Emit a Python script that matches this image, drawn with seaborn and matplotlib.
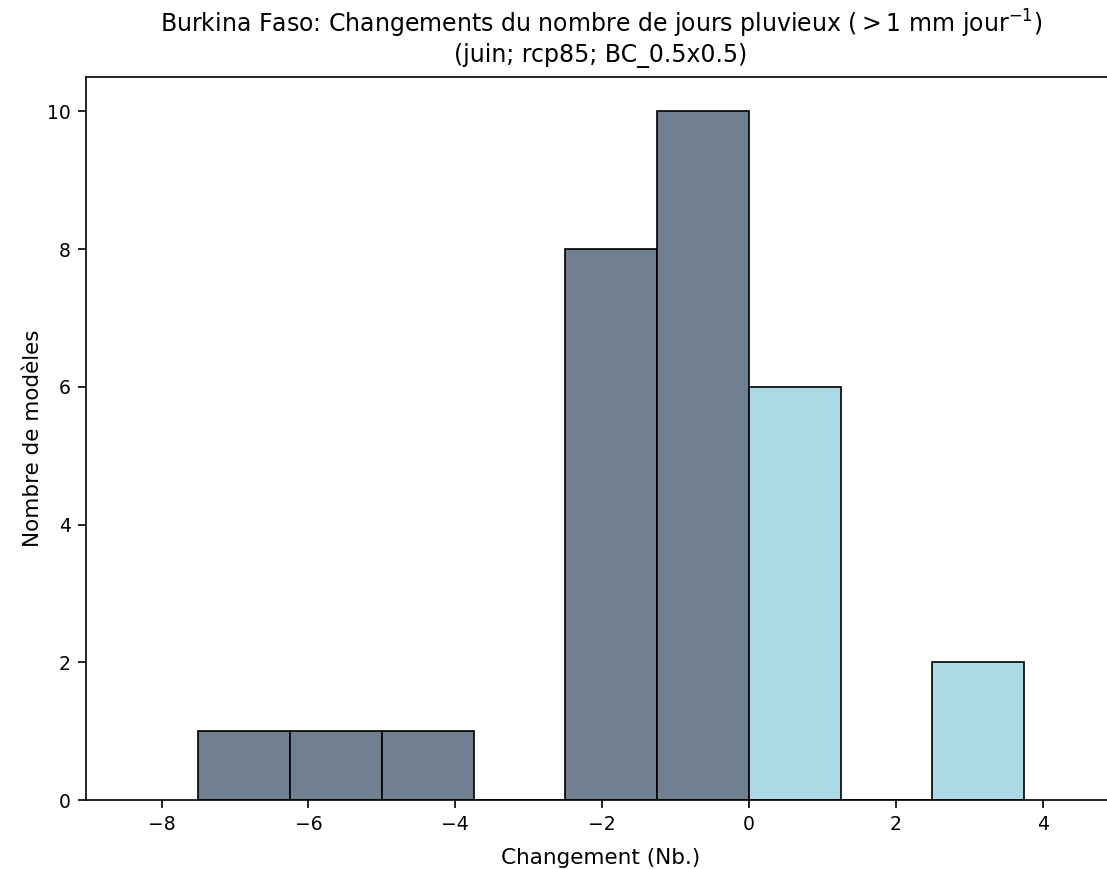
import numpy as np
import pandas as pd
import matplotlib
matplotlib.use("Agg")
import matplotlib.pyplot as plt
import seaborn as sns

# bins of 1.25 days, counts of models per bin
bin_edges = [-7.5, -6.25, -5.0, -3.75, -2.5, -1.25, 0.0, 1.25, 2.5, 3.75]
counts = [1, 1, 1, 0, 8, 10, 6, 0, 2]

centres = [(a + b) / 2 for a, b in zip(bin_edges[:-1], bin_edges[1:])]
df = pd.DataFrame({'changement': centres, 'n': counts})
neg = df[df['changement'] < 0]
pos = df[df['changement'] > 0]

fig = plt.figure(figsize=(11.07, 8.69), dpi=100)
# axes runs a bit past the right edge of the picture (right spine cut off)
ax = fig.add_axes([86 / 1107, 69 / 869, 1030 / 1107, 723 / 869])

sns.histplot(data=neg, x='changement', weights='n', bins=[e for e in bin_edges if e <= 0],
             color='slategray', edgecolor='black', alpha=1, linewidth=1.2, ax=ax)
sns.histplot(data=pos, x='changement', weights='n', bins=[e for e in bin_edges if e >= 0],
             color='lightblue', edgecolor='black', alpha=1, linewidth=1.2, ax=ax)

ax.set_xlim(-9.03, 5.0)
ax.set_ylim(0, 10.5)
ax.set_xticks([-8, -6, -4, -2, 0, 2, 4])
ax.set_yticks([0, 2, 4, 6, 8, 10])
ax.tick_params(labelsize=13.5, length=6, width=1.2, pad=5)
for s in ax.spines.values():
    s.set_linewidth(1.2)
ax.set_title('Burkina Faso: Changements du nombre de jours pluvieux ($>1$ mm jour$^{-1}$)\n'
             '(juin; rcp85; BC_0.5x0.5)', fontsize=17, pad=10.5)
ax.set_xlabel('Changement (Nb.)', fontsize=15.5, labelpad=10)
ax.set_ylabel('Nombre de modèles', fontsize=15.5, labelpad=3)

fig.savefig('out.png', dpi=100)
